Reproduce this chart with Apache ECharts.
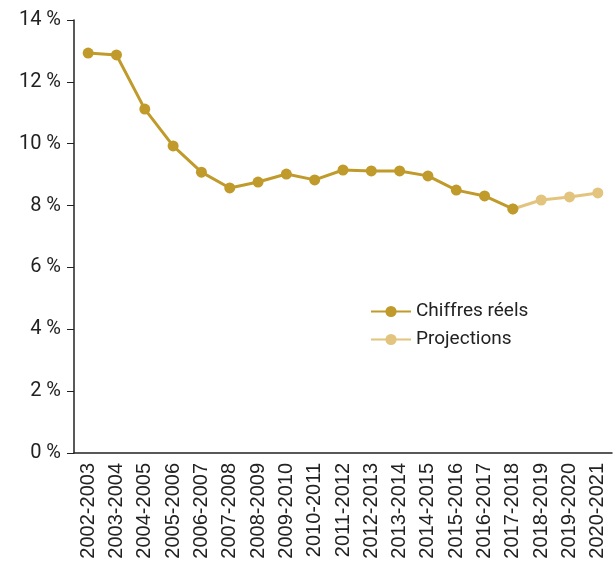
<!DOCTYPE html>
<html>
<head>
<meta charset="utf-8">
<script src="https://cdn.jsdelivr.net/npm/echarts@6/dist/echarts.min.js"></script>
<style>
  html, body { margin: 0; padding: 0; background: #fff; }
  #chart { width: 613px; height: 563px; }
</style>
</head>
<body>
<div id="chart"></div>
<script>
var years = ["2002-2003", "2003-2004", "2004-2005", "2005-2006", "2006-2007", "2007-2008",
  "2008-2009", "2009-2010", "2010-2011", "2011-2012", "2012-2013", "2013-2014",
  "2014-2015", "2015-2016", "2016-2017", "2017-2018", "2018-2019", "2019-2020", "2020-2021"];
var reels = [12.93, 12.87, 11.12, 9.93, 9.08, 8.57, 8.76, 9.02, 8.83, 9.15, 9.12, 9.12,
  8.96, 8.5, 8.31, 7.89, null, null, null];
var projections = [null, null, null, null, null, null, null, null, null, null, null, null,
  null, null, null, 7.89, 8.18, 8.28, 8.41];

var dark = "#c09b2b";
var light = "#e2c47f";

var myChart = echarts.init(document.getElementById("chart"));
var option = {
  animation: false,
  grid: { left: 74, right: 1, top: 20, bottom: 110 },
  legend: {
    orient: "vertical",
    left: 365,
    top: 297,
    itemWidth: 40,
    itemHeight: 14,
    itemGap: 9,
    data: ["Chiffres réels", "Projections"],
    textStyle: { color: "#222", fontSize: 19, fontFamily: "Roboto" }
  },
  xAxis: {
    type: "category",
    data: years,
    axisLine: { lineStyle: { color: "#222", width: 1.5 } },
    axisTick: { length: 6, lineStyle: { color: "#222" } },
    axisLabel: {
      rotate: 90,
      interval: 0,
      margin: 10,
      color: "#222",
      fontSize: 20,
      fontFamily: "Liberation Sans"
    }
  },
  yAxis: {
    type: "value",
    min: 0,
    max: 14,
    interval: 2,
    splitLine: { show: false },
    axisLine: { show: true, lineStyle: { color: "#222", width: 1.5 } },
    axisTick: { show: true, length: 7, lineStyle: { color: "#222" } },
    axisLabel: {
      margin: 13,
      color: "#222",
      fontSize: 20,
      fontFamily: "Roboto",
      formatter: function (v) { return v + " %"; }
    }
  },
  series: [
    {
      name: "Projections",
      type: "line",
      data: projections,
      symbol: "circle",
      symbolSize: 11,
      z: 2,
      lineStyle: { color: light, width: 3 },
      itemStyle: { color: light }
    },
    {
      name: "Chiffres réels",
      type: "line",
      data: reels,
      symbol: "circle",
      symbolSize: 11,
      z: 3,
      lineStyle: { color: dark, width: 3 },
      itemStyle: { color: dark }
    }
  ]
};
myChart.setOption(option);
</script>
</body>
</html>
